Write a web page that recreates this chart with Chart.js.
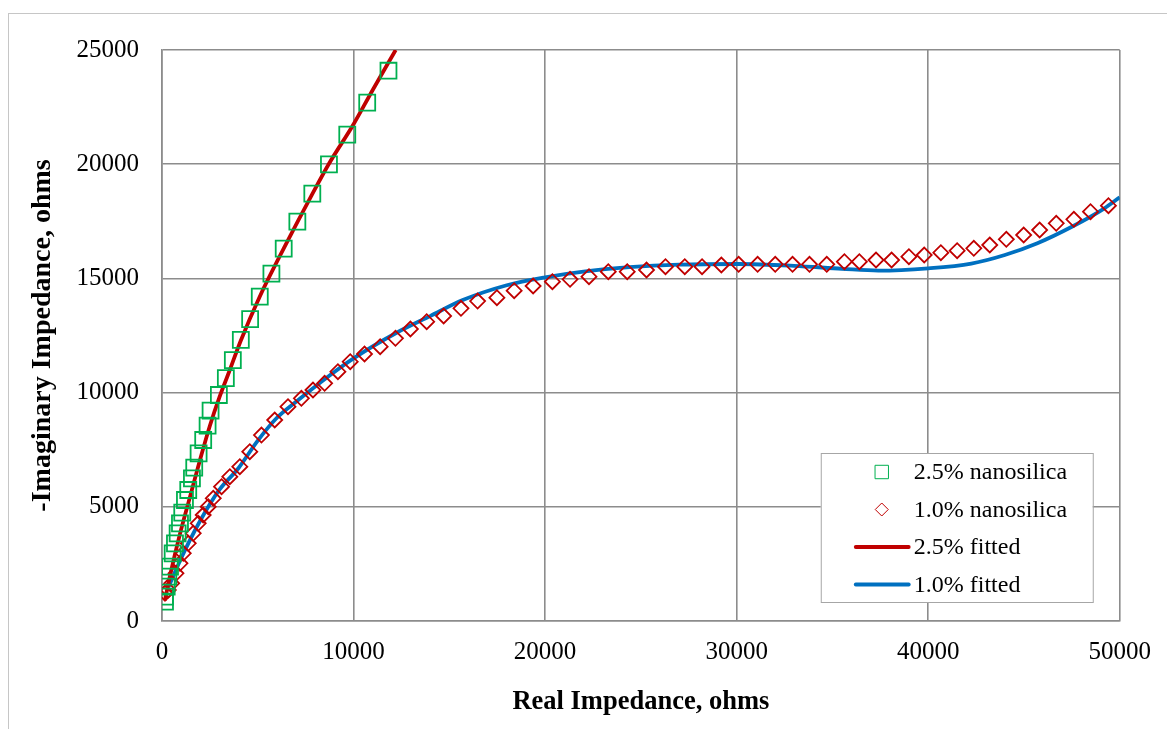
<!DOCTYPE html>
<html>
<head>
<meta charset="utf-8">
<script src="https://cdn.jsdelivr.net/npm/chart.js@4.4.1/dist/chart.umd.min.js"></script>
<style>
    html, body { margin: 0; padding: 0; background: #fff; overflow: hidden; }
    #frame { position: absolute; left: 8px; top: 13px; width: 1200px; height: 800px; border: 1px solid #c6c6c6; }
    #wrap { position: absolute; left: 0; top: 0; width: 1167px; height: 729px; }
</style>
</head>
<body>
<div id="frame"></div>
<div id="wrap"><canvas id="impedance" width="1167" height="729"></canvas></div>
<script>
// Valores (ohms)
const nano25 = [
    [156, 845], [156, 1064], [245, 1502], [330, 1940], [417, 2377], [557, 2964],
    [677, 3402], [816, 3840], [938, 4278], [1057, 4743], [1198, 5298], [1370, 5736],
    [1563, 6248], [1683, 6713], [1911, 7342], [2151, 7925], [2380, 8551], [2536, 9207],
    [2969, 9895], [3333, 10630], [3698, 11418], [4115, 12307], [4601, 13213],
    [5104, 14203], [5712, 15208], [6354, 16302], [7066, 17484], [7847, 18711],
    [8716, 19996], [9672, 21292], [10713, 22693], [11823, 24093],
];

const nano10 = [
    [156, 1213], [330, 1357], [505, 1651], [729, 2088], [938, 2526], [1109, 2964],
    [1370, 3402], [1630, 3840], [1891, 4278], [2151, 4641], [2414, 5004], [2675, 5372],
    [3109, 5880], [3542, 6318], [4063, 6756], [4583, 7412], [5191, 8143], [5885, 8800],
    [6578, 9382], [7276, 9750], [7882, 10114], [8490, 10407], [9184, 10915],
    [9827, 11353], [10573, 11690], [11389, 12010], [12188, 12377], [12969, 12785],
    [13819, 13104], [14703, 13354], [15609, 13691], [16476, 14010], [17484, 14155],
    [18385, 14461], [19375, 14667], [20382, 14855], [21302, 14959], [22292, 15075],
    [23299, 15294], [24288, 15294], [25295, 15368], [26285, 15512], [27292, 15512],
    [28194, 15512], [29201, 15587], [30104, 15617], [31094, 15617], [32014, 15617],
    [32917, 15617], [33802, 15617], [34704, 15617], [35625, 15733], [36406, 15733],
    [37276, 15806], [38089, 15806], [38993, 15951], [39792, 16025], [40661, 16125],
    [41511, 16213], [42380, 16318], [43214, 16462], [44078, 16712], [44984, 16900],
    [45818, 17119], [46684, 17412], [47604, 17587], [48474, 17921], [49410, 18183],
];

const fit25 = [
    [150, 900], [450, 2100], [950, 3850], [1450, 5400], [2000, 7100], [2500, 8550],
    [3000, 9800], [3500, 10900], [4100, 12250], [5100, 14200], [6350, 16300],
    [7850, 18700], [8700, 20000], [10000, 21750], [11000, 23250], [12200, 25000],
];

const fit10 = [
    [350, 1500], [1000, 2750], [2000, 4400], [3000, 5750], [4000, 6700], [5000, 7900],
    [6000, 8900], [7000, 9600], [8750, 10750], [10000, 11500], [12200, 12600],
    [14000, 13350], [15700, 14050], [18000, 14700], [20000, 15050], [22000, 15300],
    [24400, 15490], [27000, 15600], [30100, 15630], [33000, 15550], [35500, 15420],
    [37400, 15340], [40000, 15440], [42250, 15650], [44000, 16025], [45700, 16540],
    [47500, 17260], [49200, 18070], [50000, 18550],
];

const xTicks = [0, 10000, 20000, 30000, 40000, 50000];
const yTicks = [0, 5000, 10000, 15000, 20000, 25000];

const toXY = (arr) => arr.map(([x, y]) => ({ x, y }));
const serif = "'Liberation Serif', 'Times New Roman', serif";
const gridColor = "#8c8c8c";

// Leyenda dentro del area del grafico, como en Excel
const legendBox = {
    id: "legendBox",
    afterDatasetsDraw(chart) {
        const ctx = chart.ctx;
        const area = chart.chartArea;
        const x0 = area.right - 299;
        const y0 = area.bottom - 168;
        const w = 272;
        const h = 149;
        ctx.save();
        ctx.fillStyle = "#fff";
        ctx.fillRect(x0, y0, w, h);
        ctx.strokeStyle = "#a6a6a6";
        ctx.lineWidth = 1;
        ctx.strokeRect(x0 + 0.5, y0 + 0.5, w, h);
        ctx.font = "24px " + serif;
        ctx.textBaseline = "middle";
        chart.data.datasets.forEach((ds, i) => {
            const cy = y0 + 19 + i * 37.5;
            if (ds.showLine) {
                ctx.strokeStyle = ds.borderColor;
                ctx.lineWidth = ds.borderWidth;
                ctx.lineCap = "round";
                ctx.beginPath();
                ctx.moveTo(x0 + 35, cy);
                ctx.lineTo(x0 + 88, cy);
                ctx.stroke();
            } else {
                ctx.strokeStyle = ds.pointBorderColor;
                ctx.fillStyle = "rgba(0,0,0,0)";
                Chart.helpers.drawPoint(ctx, {
                    pointStyle: ds.pointStyle,
                    radius: ds.pointStyle === "rect" ? 9.5 : 6.5,
                    borderWidth: ds.pointBorderWidth,
                    rotation: 0,
                }, x0 + 61, cy);
            }
            ctx.fillStyle = "#000";
            ctx.fillText(ds.label, x0 + 93, cy + 1);
        });
        ctx.restore();
    },
};

const ctx = document.getElementById("impedance").getContext("2d");

let chart = new Chart(ctx, {
    type: "scatter",
    data: {
        datasets: [
            {
                label: "2.5% nanosilica",
                data: toXY(nano25),
                showLine: false,
                pointStyle: "rect",
                pointRadius: 11.3,
                pointBorderWidth: 1.8,
                pointBorderColor: "#00b050",
                pointBackgroundColor: "rgba(0,0,0,0)",
            },
            {
                label: "1.0% nanosilica",
                data: toXY(nano10),
                showLine: false,
                pointStyle: "rectRot",
                pointRadius: 7.5,
                pointBorderWidth: 1.8,
                pointBorderColor: "#c00000",
                pointBackgroundColor: "rgba(0,0,0,0)",
            },
            {
                label: "2.5% fitted",
                data: toXY(fit25),
                showLine: true,
                pointRadius: 0,
                borderColor: "#c00000",
                borderWidth: 3.8,
                cubicInterpolationMode: "monotone",
            },
            {
                label: "1.0% fitted",
                data: toXY(fit10),
                showLine: true,
                pointRadius: 0,
                borderColor: "#0070c0",
                borderWidth: 3.8,
                cubicInterpolationMode: "monotone",
            },
        ],
    },
    options: {
        responsive: false,
        animation: false,
        devicePixelRatio: 1,
        layout: { padding: { left: 0, top: 50, right: 45, bottom: 0 } },
        plugins: {
            legend: { display: false },
            tooltip: { enabled: false },
        },
        scales: {
            x: {
                type: "linear",
                min: 0,
                max: 50000,
                afterBuildTicks: (scale) => { scale.ticks = xTicks.map((v) => ({ value: v })); },
                afterFit: (scale) => { scale.height = 108; },
                grid: { color: gridColor, lineWidth: 1.6, drawTicks: false },
                border: { color: gridColor, width: 1.6 },
                ticks: {
                    color: "#000",
                    padding: 16,
                    maxRotation: 0,
                    font: { family: serif, size: 25 },
                    callback: (v) => String(v),
                },
                title: {
                    display: true,
                    text: "Real Impedance, ohms",
                    color: "#000",
                    font: { family: serif, size: 26.5, weight: "bold" },
                    padding: { top: 0, bottom: 11 },
                },
            },
            y: {
                type: "linear",
                min: 0,
                max: 25000,
                afterBuildTicks: (scale) => { scale.ticks = yTicks.map((v) => ({ value: v })); },
                afterFit: (scale) => { scale.width = 162; },
                grid: { color: gridColor, lineWidth: 1.6, drawTicks: false },
                border: { color: gridColor, width: 1.6 },
                ticks: {
                    color: "#000",
                    padding: 23,
                    font: { family: serif, size: 25 },
                    callback: (v) => String(v),
                },
                title: {
                    display: true,
                    text: "-Imaginary Impedance, ohms",
                    color: "#000",
                    font: { family: serif, size: 28, weight: "bold" },
                    padding: { top: 26, bottom: 0 },
                },
            },
        },
    },
    plugins: [legendBox],
});
</script>
</body>
</html>
